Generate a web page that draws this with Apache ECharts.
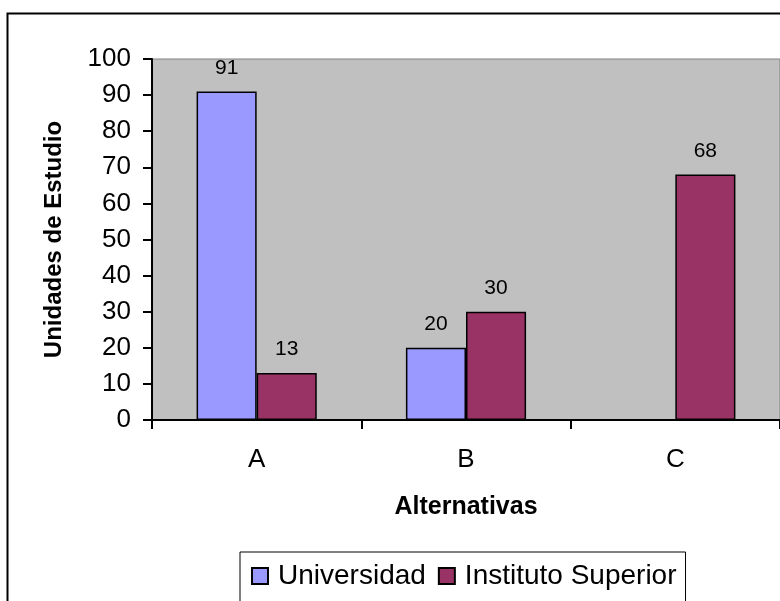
<!DOCTYPE html>
<html>
<head>
<meta charset="utf-8">
<script src="https://cdn.jsdelivr.net/npm/echarts@6/dist/echarts.min.js"></script>
<style>
  html, body { margin: 0; padding: 0; background: #fff; }
  #chart { width: 780px; height: 601px; }
</style>
</head>
<body>
<div id="chart"></div>
<script>
const categories = ['A', 'B', 'C']
const universidad = [91, 20, null]
const institutoSuperior = [13, 30, 68]
const yTicks = { min: 0, max: 100, interval: 10 }

const font = 'Arial, "Liberation Sans", sans-serif'

const chart = echarts.init(document.getElementById('chart'))
chart.setOption({
  animation: false,
  backgroundColor: '#fff',
  textStyle: { fontFamily: font, color: '#000' },
  graphic: [
    { // marco del área del gráfico
      type: 'rect',
      shape: { x: 7.5, y: 13.5, width: 800, height: 620 },
      style: { fill: 'none', stroke: '#000', lineWidth: 2 },
      z: 0
    }
  ],
  grid: {
    left: 152,
    top: 59,
    right: -2,
    bottom: 181,
    show: true,
    backgroundColor: '#c0c0c0',
    borderColor: '#808080',
    borderWidth: 1
  },
  legend: {
    left: 240,
    top: 552,
    itemWidth: 16,
    itemHeight: 16,
    itemGap: 12,
    padding: [10, 9, 14, 11],
    borderColor: '#000',
    borderWidth: 1,
    backgroundColor: '#fff',
    icon: 'rect',
    textStyle: { fontFamily: font, fontSize: 28, color: '#000', padding: [0, 0, 0, 5] },
    data: ['Universidad', 'Instituto Superior']
  },
  xAxis: {
    type: 'category',
    data: categories,
    name: 'Alternativas',
    nameLocation: 'middle',
    nameGap: 75,
    nameTextStyle: { fontFamily: font, fontSize: 25, fontWeight: 'bold', color: '#000' },
    axisLine: { lineStyle: { color: '#000', width: 2 } },
    axisTick: { show: true, length: 9, lineStyle: { color: '#000', width: 2 } },
    axisLabel: { margin: 27, fontSize: 26, color: '#000', fontFamily: font }
  },
  yAxis: {
    type: 'value',
    min: yTicks.min,
    max: yTicks.max,
    interval: yTicks.interval,
    name: 'Unidades de Estudio',
    nameLocation: 'middle',
    nameRotate: 90,
    nameGap: 86,
    nameTextStyle: { fontFamily: font, fontSize: 24, fontWeight: 'bold', color: '#000' },
    splitLine: { show: false },
    axisLine: { show: true, lineStyle: { color: '#000', width: 2 } },
    axisTick: { show: true, length: 9, lineStyle: { color: '#000', width: 2 } },
    axisLabel: { margin: 21, fontSize: 26, color: '#000', fontFamily: font }
  },
  series: [
    {
      name: 'Universidad',
      type: 'bar',
      data: universidad,
      barGap: '0%',
      barCategoryGap: '42.6%',
      itemStyle: { color: '#9999ff', borderColor: '#000', borderWidth: 1.5 },
      label: { show: true, position: 'top', distance: 13, fontSize: 21, color: '#000', fontFamily: font }
    },
    {
      name: 'Instituto Superior',
      type: 'bar',
      data: institutoSuperior,
      itemStyle: { color: '#993366', borderColor: '#000', borderWidth: 1.5 },
      label: { show: true, position: 'top', distance: 13, fontSize: 21, color: '#000', fontFamily: font }
    }
  ]
})
</script>
</body>
</html>
